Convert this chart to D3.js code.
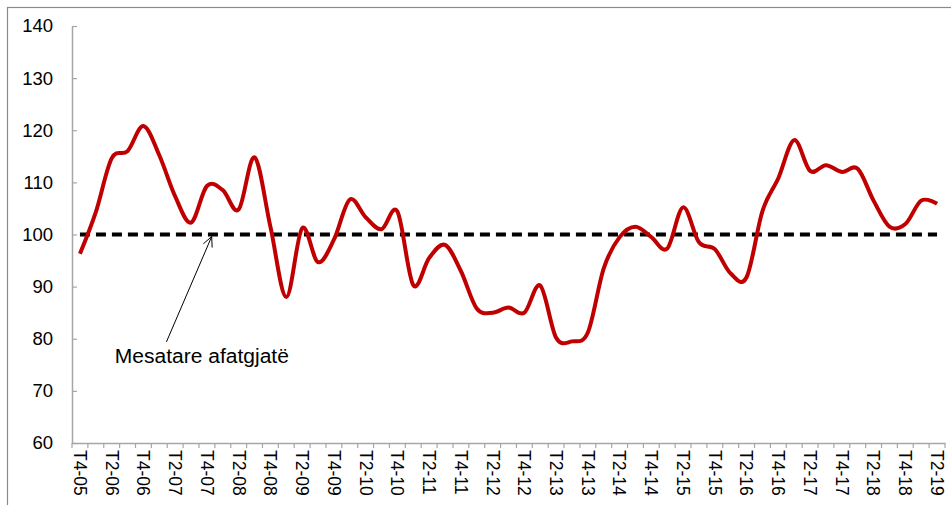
<!DOCTYPE html>
<html>
<head>
<meta charset="utf-8">
<script src="https://cdn.jsdelivr.net/npm/d3@7"></script>
<style>
  html, body { margin: 0; padding: 0; background: #fff; overflow: hidden; }
  svg { display: block; }
  text { font-family: "Liberation Sans", Arial, sans-serif; fill: #000; }
</style>
</head>
<body>
<svg id="chart" width="951" height="505"></svg>
<script>
// ---- data ----
const categories = [
  "T4-05","T1-06","T2-06","T3-06","T4-06","T1-07","T2-07","T3-07","T4-07",
  "T1-08","T2-08","T3-08","T4-08","T1-09","T2-09","T3-09","T4-09",
  "T1-10","T2-10","T3-10","T4-10","T1-11","T2-11","T3-11","T4-11",
  "T1-12","T2-12","T3-12","T4-12","T1-13","T2-13","T3-13","T4-13",
  "T1-14","T2-14","T3-14","T4-14","T1-15","T2-15","T3-15","T4-15",
  "T1-16","T2-16","T3-16","T4-16","T1-17","T2-17","T3-17","T4-17",
  "T1-18","T2-18","T3-18","T4-18","T1-19","T2-19"
];
const indexValues = [
  96.3,104.3,114.6,116.0,120.8,115.2,107.3,102.3,109.3,
  108.5,104.8,114.8,101.5,88.0,101.2,94.7,99.0,
  106.7,103.3,101.0,104.4,90.3,95.5,98.0,93.0,
  85.8,85.0,86.0,85.0,90.2,80.2,79.5,81.2,
  93.5,99.5,101.5,99.5,97.3,105.2,98.5,97.2,
  92.5,91.8,104.5,110.8,118.1,112.2,113.3,112.0,
  112.6,106.5,101.5,102.0,106.5,105.9
];
const longTermAverage = categories.map(() => 100);
const yTicks = [60, 70, 80, 90, 100, 110, 120, 130, 140];
const xTickLabels = categories.filter((c, i) => i % 2 === 0);
const annotationText = "Mesatare afatgjatë";

// ---- layout ----
const svg = d3.select("#chart");
const plot = { left: 72, right: 945, top: 26, bottom: 443 };

const x = d3.scaleBand().domain(categories).range([plot.left, plot.right]).padding(0);
const xIdx = i => plot.left + x.bandwidth() * (i + 0.5);
const y = d3.scaleLinear().domain([60, 140]).range([plot.bottom, plot.top]);

// outer chart border (clipped by page)
svg.append("rect")
  .attr("x", 7.5).attr("y", 7.5)
  .attr("width", 1000).attr("height", 600)
  .attr("fill", "none").attr("stroke", "#8a8a8a").attr("stroke-width", 1.2);

// y axis
const yAxis = svg.append("g")
  .attr("transform", `translate(${plot.left},0)`)
  .call(d3.axisLeft(y).tickValues(yTicks).tickSize(-5).tickPadding(19).tickSizeOuter(0));
yAxis.select(".domain").attr("stroke", "#a6a6a6").attr("stroke-width", 1.5);
yAxis.selectAll(".tick line").attr("stroke", "#a6a6a6").attr("stroke-width", 1.2);
yAxis.selectAll(".tick text").style("font-size", "18.5px").attr("fill", "#000");

// x axis
const xAxis = svg.append("g")
  .attr("transform", `translate(0,${plot.bottom})`)
  .call(d3.axisBottom(x).tickValues(xTickLabels).tickSize(0).tickSizeOuter(0));
xAxis.select(".domain").attr("stroke", "#a6a6a6").attr("stroke-width", 1.5);
xAxis.selectAll(".tick text")
  .style("font-size", "17.5px")
  .attr("fill", "#000")
  .attr("text-anchor", "start")
  .attr("transform", "rotate(90)")
  .attr("x", 7).attr("y", 0).attr("dy", "0.35em");
// tick marks at category boundaries
const boundaries = categories.map(c => x(c)).concat([x(categories[categories.length - 1]) + x.bandwidth()]);
xAxis.selectAll(".bnd").data(boundaries).enter().append("line")
  .attr("class", "bnd")
  .attr("x1", d => d).attr("x2", d => d)
  .attr("y1", 0).attr("y2", 5)
  .attr("stroke", "#a6a6a6").attr("stroke-width", 1.2);

// long-term average dashed line
const lineGen = d3.line()
  .x((d, i) => x(categories[i]) + x.bandwidth() / 2)
  .y(d => y(d));
svg.append("path")
  .datum(longTermAverage)
  .attr("d", lineGen)
  .attr("fill", "none")
  .attr("stroke", "#000")
  .attr("stroke-width", 3.8)
  .attr("stroke-dasharray", "10,6");

// main series
svg.append("path")
  .datum(indexValues)
  .attr("d", lineGen.curve(d3.curveCardinal.tension(0)))
  .attr("fill", "none")
  .attr("stroke", "#c00000")
  .attr("stroke-width", 4)
  .attr("stroke-linejoin", "round");

// annotation
const tail = [xIdx(5.45), y(79.4)];
const tip = [xIdx(8.3), y(99.6)];
const ann = svg.append("g");
ann.append("line")
  .attr("x1", tail[0]).attr("y1", tail[1])
  .attr("x2", tip[0]).attr("y2", tip[1])
  .attr("stroke", "#000").attr("stroke-width", 1);
const ang = Math.atan2(tail[1] - tip[1], tail[0] - tip[0]);
[-0.45, 0.45].forEach(da => {
  ann.append("line")
    .attr("x1", tip[0]).attr("y1", tip[1])
    .attr("x2", tip[0] + 11 * Math.cos(ang + da))
    .attr("y2", tip[1] + 11 * Math.sin(ang + da))
    .attr("stroke", "#000").attr("stroke-width", 1);
});
ann.append("text")
  .attr("x", xIdx(2.2)).attr("y", y(75.3))
  .style("font-size", "19.5px")
  .attr("textLength", 174)
  .attr("lengthAdjust", "spacingAndGlyphs")
  .text(annotationText);
</script>
</body>
</html>
